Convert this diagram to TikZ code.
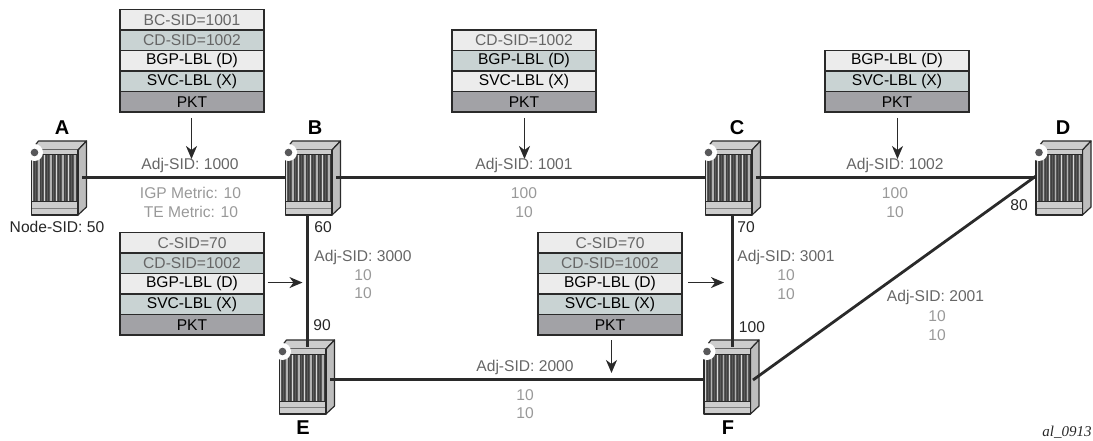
\documentclass[tikz,border=0pt]{standalone}
\usepackage{fontspec}
\setmainfont{Liberation Sans}
\newfontfamily\tagfont{Liberation Serif}
\usetikzlibrary{arrows.meta}
\definecolor{rowa}{HTML}{ECECEC}
\definecolor{rowb}{HTML}{C9D3D3}
\definecolor{rowc}{HTML}{A2A2A6}
\definecolor{lab}{HTML}{666666}
\definecolor{met}{HTML}{999999}
\definecolor{edge}{HTML}{2A2A2A}
\definecolor{ctop}{HTML}{CDCDCD}
\definecolor{cside}{HTML}{BDBDBD}
\definecolor{cdot}{HTML}{58585A}
\tikzset{
  x=1pt,y=-1pt,
  link/.style={line width=3pt,draw=edge},
  pointer/.style={line width=1.6pt,draw=edge,-{Stealth[length=13pt,width=11pt,inset=4pt]}},
  rowcell/.style={draw=edge,line width=1.1pt,minimum width=144pt,minimum height=20.5pt,inner sep=0pt,outer sep=0pt,anchor=north west,font=\fontsize{15.6}{15.6}\selectfont,text=black},
  light/.style={rowcell,fill=rowa},
  teal/.style={rowcell,fill=rowb},
  pkt/.style={rowcell,fill=rowc},
  rname/.style={font=\fontsize{20}{20}\selectfont\bfseries,text=black,inner sep=0pt},
  lbl/.style={font=\fontsize{15.6}{15.6}\selectfont,text=lab,inner sep=0pt},
  metric/.style={font=\fontsize{15.6}{15.6}\selectfont,text=met,inner sep=0pt},
  num/.style={font=\fontsize{15.6}{15.6}\selectfont,text=black!85,inner sep=0pt},
  rbody/.style={minimum width=51pt,minimum height=74pt,inner sep=0pt,outer sep=0pt,anchor=north west},
}
\newcommand\router[3]{%
  \begin{scope}[shift={(#2,#3)}]
    \draw[edge,fill=ctop,line width=1.2pt,line join=round] (0,9) -- (7,0) -- (55,0) -- (46.5,9) -- cycle;
    \draw[edge,fill=cside,line width=1.2pt,line join=round] (46.5,9) -- (55,0) -- (55,66) -- (46.5,74) -- cycle;
    \fill[ctop] (0,9) rectangle (46.5,74);
    \fill[gray!70!black] (0,14) rectangle (46.5,61);
    \foreach \i in {0,...,22}{
      \pgfmathtruncatemacro{\m}{mod(\i,6)}
      \ifnum\m=0 \fill[white!85!black] (\i*2+0.8,14) rectangle ++(1,47);
      \else\ifnum\m=3 \fill[white!70!black] (\i*2+0.8,14) rectangle ++(1.4,47);
      \else \fill[black!75] (\i*2+0.8,14) rectangle ++(0.8,47);\fi\fi
    }
    \draw[edge,line width=1pt] (0,14) -- (46.5,14);
    \draw[edge,line width=1pt] (0,61) -- (46.5,61);
    \draw[gray,line width=0.8pt] (0,67.5) -- (46.5,67.5);
    \draw[edge,line width=1.4pt,line join=round] (0,9) -- (0,74) -- (46.5,74) -- (46.5,9);
    \fill[white] (3,11.5) circle (8.5);
    \fill[cdot] (3,11.5) circle (3.8);
    \node[rbody] (#1) at (0,0) {};
  \end{scope}}
\newcommand\stackrows[4]{% prefix, x, y, list of rows style/text
  \begin{scope}[shift={(#2,#3)}]
    \foreach \st/\tx [count=\n from 0] in {#4}{
      \node[\st] (#1\n) at (0,\n*20.5) {\tx};
    }
  \end{scope}}
\begin{document}
\begin{tikzpicture}
\useasboundingbox (0,0) rectangle (1093,441);
% anchors for links
\coordinate (Ae) at (82,177.5);
\coordinate (Bw) at (285.5,177.5);
\coordinate (Be) at (336,177.5);
\coordinate (Cw) at (705.5,177.5);
\coordinate (Ce) at (756,177.5);
\coordinate (Dw) at (1036,177.5);
\coordinate (Bs) at (307.5,215);
\coordinate (Et) at (307.5,347);
\coordinate (Ee) at (330,379.5);
\coordinate (Fw) at (704,379.5);
\coordinate (Cs) at (732.5,215);
\coordinate (Ft) at (732.5,347);
\coordinate (Fe) at (753,380);
\coordinate (Dv) at (1036,176);
\router{A}{31.5}{141}
\router{B}{285.5}{141}
\router{C}{705.5}{141}
\router{D}{1036}{141}
\router{E}{279.5}{340}
\router{F}{704}{340}
\draw[link] (Bs) -- (Et);
\draw[link] (Cs) -- (Ft);
\draw[link] (Ae) -- (Bw);
\draw[link] (Be) -- (Cw);
\draw[link] (Ce) -- (Dw);
\draw[link] (Ee) -- (Fw);
\draw[link,line width=2.8pt] (Fe) -- (Dv);
% router names
\node[rname] (nA) at (62,127.5) {A};
\node[rname] (nB) at (315,127.5) {B};
\node[rname] (nC) at (737,127.5) {C};
\node[rname] (nD) at (1063,127.5) {D};
\node[rname] (nE) at (303,428) {E};
\node[rname] (nF) at (728,428) {F};
% stacks
\stackrows{s}{120}{9.5}{light/{\textcolor{lab}{BC-SID=1001}},teal/{\textcolor{lab}{CD-SID=1002}},light/BGP-LBL (D),teal/SVC-LBL (X),pkt/PKT}
\stackrows{t}{452}{30}{light/{\textcolor{lab}{CD-SID=1002}},teal/BGP-LBL (D),light/SVC-LBL (X),pkt/PKT}
\stackrows{u}{825}{50.5}{light/BGP-LBL (D),teal/SVC-LBL (X),pkt/PKT}
\stackrows{v}{120}{232.5}{light/{\textcolor{lab}{C-SID=70}},teal/{\textcolor{lab}{CD-SID=1002}},light/BGP-LBL (D),teal/SVC-LBL (X),pkt/PKT}
\stackrows{w}{538}{232.5}{light/{\textcolor{lab}{C-SID=70}},teal/{\textcolor{lab}{CD-SID=1002}},light/BGP-LBL (D),teal/SVC-LBL (X),pkt/PKT}
% pointers
\coordinate (p1) at ([xshift=-0.5pt]s4.south);
\coordinate (p2) at ([xshift=0.5pt]t3.south);
\coordinate (p3) at ([xshift=0.5pt]u2.south);
\coordinate (p4) at ([xshift=1.5pt]w4.south);
\coordinate (p5) at ([yshift=1.2pt]v2.east);
\coordinate (p6) at ([yshift=1.2pt]w2.east);
\draw[pointer,shorten <=6pt] (p1) -- ++(0,47);
\draw[pointer,shorten <=6pt] (p2) -- ++(0,47);
\draw[pointer,shorten <=6pt] (p3) -- ++(0,47);
\draw[pointer,shorten <=5pt] (p4) -- ++(0,38);
\draw[pointer,shorten <=3.5pt] (p5) -- ++(38.5,0);
\draw[pointer,shorten <=6pt] (p6) -- ++(42,0);
% labels
\node[num] (ln) at (57,227) {Node-SID: 50};
\node[lbl] (l1) at (190,165) {Adj-SID: 1000};
\node[metric] (l1a) at (190.5,193) {IGP Metric: 10};
\node[metric] (l1b) at (191,212) {TE Metric: 10};
\node[lbl] (l2) at (524,165) {Adj-SID: 1001};
\node[metric] (l2a) at (524,193) {100};
\node[metric] (l2b) at (524,212) {10};
\node[lbl] (l3) at (895,165) {Adj-SID: 1002};
\node[metric] (l3a) at (895,193) {100};
\node[metric] (l3b) at (895,212) {10};
\node[lbl] (l4) at (363,257) {Adj-SID: 3000};
\node[metric] (l4a) at (363,275) {10};
\node[metric] (l4b) at (363,293) {10};
\node[lbl] (l5) at (786,257) {Adj-SID: 3001};
\node[metric] (l5a) at (786,275) {10};
\node[metric] (l5b) at (786,294) {10};
\node[lbl] (l6) at (525,367) {Adj-SID: 2000};
\node[metric] (l6a) at (525,395) {10};
\node[metric] (l6b) at (525,413) {10};
\node[lbl] (l7) at (935.5,297) {Adj-SID: 2001};
\node[metric] (l7a) at (937,316) {10};
\node[metric] (l7b) at (937,335) {10};
\node[num] (n60) at (323,227) {60};
\node[num] (n90) at (322,325) {90};
\node[num] (n70) at (746,227) {70};
\node[num] (n100) at (752,327) {100};
\node[num] (n80) at (1019,205) {80};
\node[inner sep=0pt,font=\tagfont\fontsize{15}{15}\selectfont\itshape,text=black!85] (tag) at (1067,432) {al\_0913};
\end{tikzpicture}
\end{document}
